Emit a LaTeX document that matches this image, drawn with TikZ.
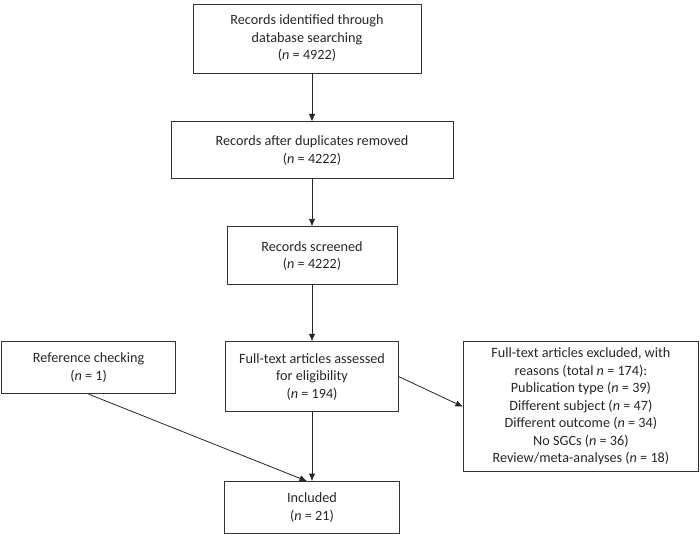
\documentclass[tikz,border=0pt]{standalone}
\usepackage{fontspec}
\setmainfont{Carlito}
\usetikzlibrary{arrows.meta, positioning}

\begin{document}
\begin{tikzpicture}[
        stage/.style={rectangle, draw=black!80, line width=0.9pt, align=center, inner sep=2pt,
            font=\fontsize{14.2}{17.5}\selectfont, text=black!85},
        flow/.style={-{Latex[length=7.5pt, width=6.5pt]}, line width=0.8pt, black!85}
    ]
        \useasboundingbox (0,0) rectangle (700pt,-533pt);

        % Main column
        \node[stage, minimum width=228pt, minimum height=69pt] (ident) at (307pt,-38.5pt)
            {Records identified through\\database searching\\(\textit{n} = 4922)};
        \node[stage, minimum width=282pt, minimum height=57pt, below=48pt of ident, xshift=5pt] (dupl)
            {Records after duplicates removed\\(\textit{n} = 4222)};
        \node[stage, minimum width=170pt, minimum height=58pt, below=47pt of dupl] (screen)
            {Records screened\\(\textit{n} = 4222)};
        \node[stage, minimum width=173pt, minimum height=70pt, below=56pt of screen] (full)
            {Full-text articles assessed\\for eligibility\\(\textit{n} = 194)};
        \node[stage, minimum width=175pt, minimum height=52pt, below=69pt of full] (incl)
            {Included\\(\textit{n} = 21)};

        % Side boxes
        \node[stage, minimum width=174pt, minimum height=52pt, anchor=north east] (refc)
            at ([xshift=-49pt]full.north west) {Reference checking\\(\textit{n} = 1)};
        \node[stage, minimum width=235pt, minimum height=130pt, anchor=north west] (excl)
            at ([xshift=64pt]full.north east)
            {Full-text articles excluded, with\\reasons (total \textit{n} = 174):\\Publication type (\textit{n} = 39)\\Different subject (\textit{n} = 47)\\Different outcome (\textit{n} = 34)\\No SGCs (\textit{n} = 36)\\Review/meta-analyses (\textit{n} = 18)};

        \draw[flow] (ident.south -| dupl.north) -- (dupl.north);
        \draw[flow] (dupl) -- (screen);
        \draw[flow] (screen) -- (full);
        \draw[flow] (full) -- (incl);
        \draw[flow] (refc.south) -- ([xshift=-5pt]incl.north);
        \draw[flow] (full.east) -- (excl.west);

    \end{tikzpicture}
\end{document}
